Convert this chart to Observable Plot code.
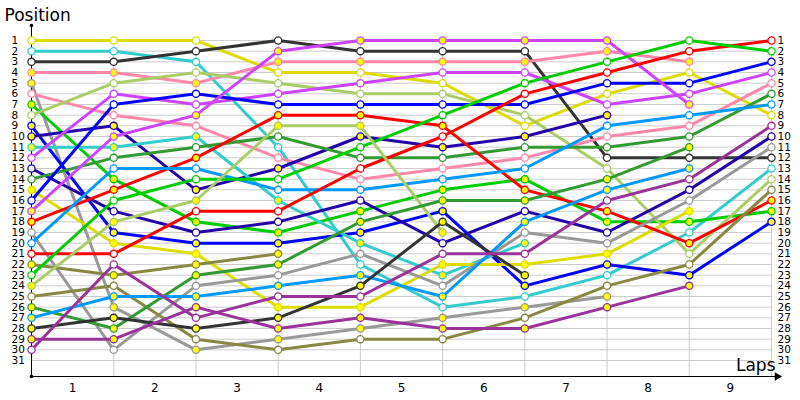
<!DOCTYPE html>
<html><head><meta charset="utf-8">
<script src="https://cdn.jsdelivr.net/npm/d3@7"></script>
<script src="https://cdn.jsdelivr.net/npm/@observablehq/plot@0.6"></script>
<style>body{margin:0;background:#fff}</style>
</head><body><div id="chart"></div>
<script>
const laps = [0,1,2,3,4,5,6,7,8,9];
const lapLabels = [1,2,3,4,5,6,7,8,9];
const posTicks = d3.range(1, 32);
// driver colours (ordered by starting position)
const colors = ["#dcdc00","#33cccc","#333333","#ff88aa","#999999","#ff88aa","#00cc00","#aacc66","#0000ff","#2200aa",
  "#33cccc","#cc44ff","#2200aa","#339933","#dcdc00","#0000ff","#cc44ff","#ff0000","#999999","#0099ff",
  "#ff0000","#888844","#00cc00","#aacc66","#888844","#339933","#0099ff","#333333","#993399","#993399"];
const yellowFill = [0,0,0,1,1,0,1,0,1,1, 1,0,0,0,1,0,1,1,0,0, 0,1,0,1,0,1,1,1,1,0];
const positions = [
  [1,1,1,4,4,5,9,6,4,8],
  [2,2,3,11,22,26,25,23,19,13],
  [3,3,2,1,2,2,2,12,12,12],
  [4,4,5,3,3,3,3,2,3,null],
  [5,26,30,29,28,27,26,25,null,null],
  [6,8,9,12,14,13,12,10,9,5],
  [7,14,18,19,17,15,14,18,18,17],
  [8,5,4,5,6,6,8,13,21,14],
  [9,19,20,20,19,17,24,22,23,18],
  [10,9,15,13,10,11,10,8,null,null],
  [11,11,10,16,20,23,20,null,null,null],
  [12,6,7,6,5,4,4,7,6,4],
  [13,17,19,18,16,20,17,19,15,10],
  [14,12,11,10,12,12,11,11,10,6],
  [15,20,21,26,26,22,22,21,17,null],
  [16,7,6,7,7,7,7,5,5,3],
  [17,10,8,2,1,1,1,1,7,null],
  [18,15,12,8,8,9,15,17,20,16],
  [19,30,24,23,21,24,19,20,16,11],
  [20,13,13,15,15,14,13,9,8,7],
  [21,21,17,17,13,10,6,4,2,1],
  [22,23,22,21,null,null,null,null,null,null],
  [23,16,14,14,11,8,5,3,1,2],
  [24,18,16,9,9,19,null,null,null,null],
  [25,24,29,30,29,29,27,24,22,15],
  [26,28,23,22,18,16,16,14,11,null],
  [27,25,25,24,23,25,18,15,13,null],
  [28,27,28,27,24,18,23,null,null,null],
  [29,29,26,28,27,28,28,26,24,null],
  [30,22,27,25,25,21,21,16,14,9]
];

const rows = [];
positions.forEach((ps, i) => ps.forEach((p, l) => {
  if (p != null) rows.push({driver: i, lap: laps[l], pos: p, color: colors[i], fill: yellowFill[i] ? "#ffff00" : "#ffffff"});
}));

const font = "Tahoma, 'DejaVu Sans', sans-serif";
const chart = Plot.plot({
  width: 800, height: 400,
  marginLeft: 0, marginRight: 0, marginTop: 0, marginBottom: 0,
  x: {domain: [0, 9], range: [31, 771], axis: null},
  y: {domain: [1, 31], range: [40, 360], axis: null},
  color: {type: "identity"},
  style: {fontFamily: font, background: "#fff"},
  marks: [
    Plot.ruleY(posTicks, {y: d => d, x1: 0, x2: 9, stroke: "#cccccc", strokeWidth: 1}),
    Plot.ruleX(lapLabels, {x: d => d, y1: 1, y2: 32.5, stroke: "#cccccc", strokeWidth: 1}),
    Plot.ruleX([0], {x: d => d, y1: -0.4, y2: 32.5, stroke: "#000", strokeWidth: 1}),
    Plot.ruleY([32.5], {y: d => d, x1: 0, x2: 9.05, stroke: "#000", strokeWidth: 1.2}),
    Plot.dot([0], {x: 9.07, y: 32.5, symbol: "triangle", rotate: 90, fill: "#000", r: 3.2}),
    Plot.dot([0], {x: 0, y: -0.4, fill: "#000", r: 1.8}),
    Plot.dot([0], {x: 0, y: 32.5, fill: "#000", r: 1.8}),
    Plot.line(rows, {x: "lap", y: "pos", z: "driver", stroke: "color", strokeWidth: 3}),
    Plot.dot(rows, {x: "lap", y: "pos", fill: "fill", stroke: "color", r: 3.6, strokeWidth: 1.3}),
    Plot.text(posTicks, {y: d => d, text: d => String(d), frameAnchor: "left", dx: 11, textAnchor: "start", fontSize: 10.5, fill: "#000"}),
    Plot.text(posTicks, {y: d => d, text: d => String(d), frameAnchor: "left", dx: 777, textAnchor: "start", fontSize: 10.5, fill: "#000"}),
    Plot.text(lapLabels, {x: d => d - 0.5, text: d => String(d), frameAnchor: "bottom", lineAnchor: "middle", dy: -12, fontSize: 12, fill: "#000"}),
    Plot.text(["Position"], {text: d => d, frameAnchor: "top-left", lineAnchor: "middle", dx: 4, dy: 15, textAnchor: "start", fontSize: 17, fill: "#000"}),
    Plot.text(["Laps"], {text: d => d, frameAnchor: "bottom-right", lineAnchor: "middle", dx: -25, dy: -35, textAnchor: "end", fontSize: 17, fill: "#000"})
  ]
});
document.getElementById("chart").appendChild(chart);
</script>
</body></html>
